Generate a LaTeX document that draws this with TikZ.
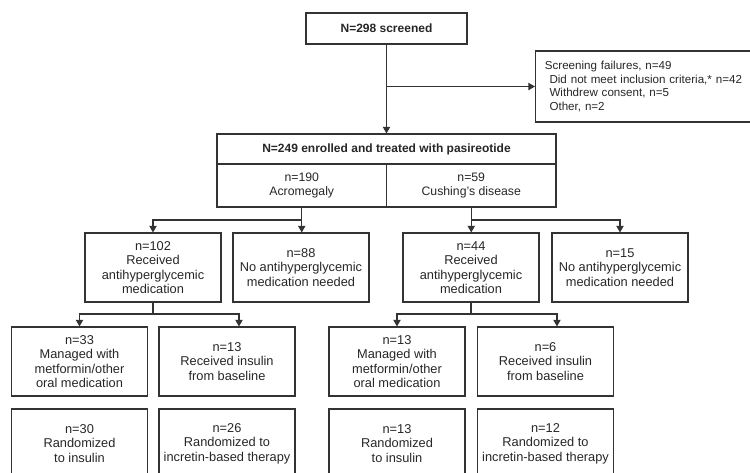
\documentclass[tikz,border=0pt]{standalone}
\usepackage{fontspec}
\setmainfont{Liberation Sans}
\usetikzlibrary{arrows.meta}

\begin{document}
\begin{tikzpicture}[x=0.75pt,y=-0.75pt]
\tikzstyle{every node}+=[inner sep=0pt, text=black!85, font=\fontsize{9.6}{10.9}\selectfont]
\tikzstyle{flowbox}=[draw=black!80, line width=0.8pt, align=center, minimum width=102pt, minimum height=51.75pt]
\tikzstyle{headbox}=[flowbox, font=\fontsize{9}{10.9}\selectfont\bfseries]
\tikzstyle{link}=[draw=black!80, line width=0.8pt, -{Triangle[width=5.5pt,length=5pt]}]
\tikzstyle{plain}=[draw=black!80, line width=0.8pt]
\useasboundingbox (0,0) rectangle (750,472);
\clip (0,0) rectangle (750,472);
\node[headbox, minimum width=120.75pt, minimum height=23.25pt] (screen) at (386.5,28.5) {N=298 screened};
\node[flowbox, anchor=west, align=left, font=\fontsize{8.7}{10.2}\selectfont, text width=150pt, inner xsep=7pt, minimum width=0pt, minimum height=53.25pt] (fail) at (535,86.5)
  {Screening failures, n=49\\
   \hspace*{3.5pt}Did not meet inclusion criteria,* n=42\\
   \hspace*{3.5pt}Withdrew consent, n=5\\
   \hspace*{3.5pt}Other, n=2};
\node[headbox, minimum width=254.25pt, minimum height=22.5pt] (enrol) at (386.5,149) {N=249 enrolled and treated with pasireotide};
\node[flowbox, font=\fontsize{9.2}{10.9}\selectfont, minimum width=127.1pt, minimum height=32.25pt] (acro) at (301.75,185.5) {n=190\\Acromegaly};
\node[flowbox, font=\fontsize{9.2}{10.9}\selectfont, minimum width=127.1pt, minimum height=32.25pt] (cush) at (471.25,185.5) {n=59\\Cushing's disease};
\node[flowbox] (recA) at (153,267.5) {n=102\\Received\\antihyperglycemic\\medication};
\node[flowbox] (noA) at (301,267.5) {n=88\\No antihyperglycemic\\medication needed};
\node[flowbox] (recC) at (471,267.5) {n=44\\Received\\antihyperglycemic\\medication};
\node[flowbox] (noC) at (620,267.5) {n=15\\No antihyperglycemic\\medication needed};
\node[flowbox] (oralA) at (79.5,361.5) {n=33\\Managed with\\metformin/other\\oral medication};
\node[flowbox] (insA) at (227,361.5) {n=13\\Received insulin\\from baseline};
\node[flowbox] (oralC) at (397,361.5) {n=13\\Managed with\\metformin/other\\oral medication};
\node[flowbox] (insC) at (545.5,361.5) {n=6\\Received insulin\\from baseline};
\node[flowbox] (randinsA) at (79.5,443.5) {n=30\\Randomized\\to insulin};
\node[flowbox] (randincA) at (227,443.5) {n=26\\Randomized to\\incretin-based therapy};
\node[flowbox] (randinsC) at (397,443.5) {n=13\\Randomized\\to insulin};
\node[flowbox] (randincC) at (545.5,443.5) {n=12\\Randomized to\\incretin-based therapy};
\coordinate (split) at (screen.south |- fail.west);
\coordinate (jA) at (301.75,220);
\coordinate (jC) at (471.25,220);
\coordinate (kA) at (153,314);
\coordinate (kC) at (471,314);
\draw[link] (screen) -- (enrol);
\draw[link] (split) -- (fail);
\draw[link] (acro.south) -- (acro.south |- noA.north);
\draw[link] (jA) -| (recA.north);
\draw[link] (cush.south) -- (cush.south |- recC.north);
\draw[link] (jC) -| (noC.north);
\draw[plain] (recA.south) -- (kA);
\draw[link] (kA) -| (oralA.north);
\draw[link] (kA) -| ([xshift=9pt]insA.north);
\draw[plain] (recC.south) -- (kC);
\draw[link] (kC) -| (oralC.north);
\draw[link] (kC) -| ([xshift=8.6pt]insC.north);
\end{tikzpicture}
\end{document}
